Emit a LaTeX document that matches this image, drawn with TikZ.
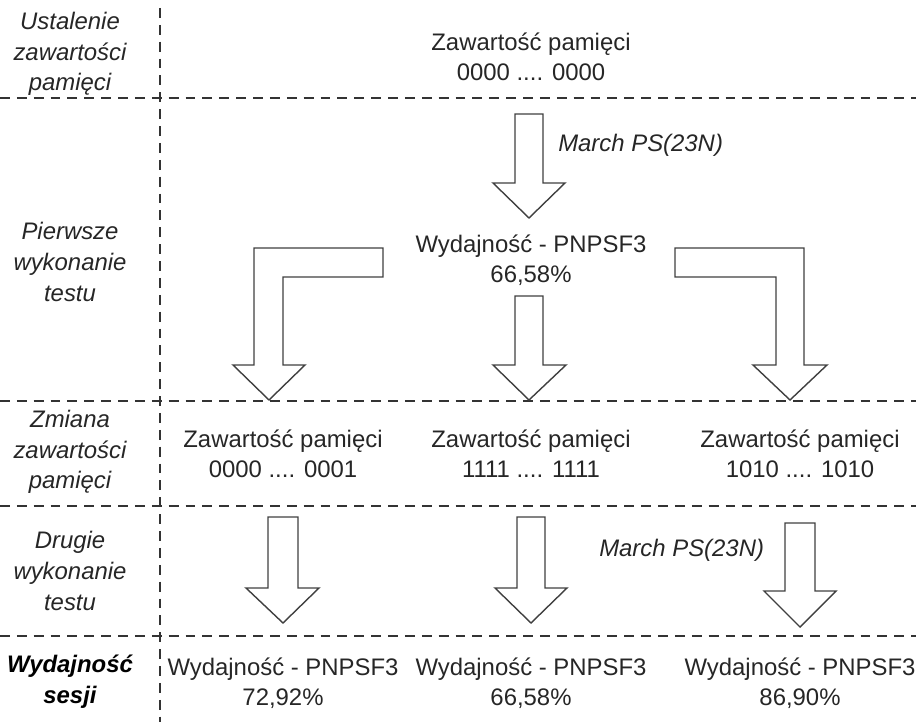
\documentclass[tikz,border=0pt]{standalone}
\usepackage{fontspec}
\setmainfont{Liberation Sans}
\tikzset{
  txt/.style={align=center, text=black!85, font=\fontsize{17}{21.3}\selectfont, inner sep=0pt},
  lbl/.style={txt, font=\fontsize{17}{21.8}\selectfont\itshape},
  sep/.style={draw=black!80, line width=1.1pt, dash pattern=on 7pt off 5pt},
  blk/.style={draw=black!75, line width=1pt, fill=white, line join=miter}
}
\begin{document}
\begin{tikzpicture}[x=0.025cm, y=-0.025cm]
  \useasboundingbox (0,0) rectangle (916,722);
  % separators
  \draw[sep] (0,98) -- (916,98);
  \draw[sep] (0,401) -- (916,401);
  \draw[sep] (0,506) -- (916,506);
  \draw[sep] (0,636) -- (916,636);
  \draw[sep] (160,8) -- (160,722);

  % left column
  \node[lbl] (stage1) at (70,54) {Ustalenie\\zawartości\\pamięci};
  \node[lbl] (stage2) at (70,262) {Pierwsze\\wykonanie\\testu};
  \node[lbl] (stage3) at (70,452) {Zmiana\\zawartości\\pamięci};
  \node[lbl] (stage4) at (70,571) {Drugie\\wykonanie\\testu};
  \node[lbl, font=\fontsize{17}{21.8}\selectfont\bfseries\itshape, text=black] (stage5) at (70,682) {Wydajność\\sesji};

  % memory contents and results
  \node[txt] (mem0) at (531,57) {Zawartość pamięci\\0000 .... 0000};
  \node[txt] (res0) at (531,260) {Wydajność - PNPSF3\\66,58\%};
  \node[txt] (memA) at (283,454) {Zawartość pamięci\\0000 .... 0001};
  \node[txt] (memB) at (531,454) {Zawartość pamięci\\1111 .... 1111};
  \node[txt] (memC) at (800,454) {Zawartość pamięci\\1010 .... 1010};
  \node[txt] (resA) at (283,683) {Wydajność - PNPSF3\\72,92\%};
  \node[txt] (resB) at (531,683) {Wydajność - PNPSF3\\66,58\%};
  \node[txt] (resC) at (800,683) {Wydajność - PNPSF3\\86,90\%};
  \node[txt, font=\fontsize{17}{21.3}\selectfont\itshape, anchor=west] (march1) at (558,145) {March PS(23N)};
  \node[txt, font=\fontsize{17}{21.3}\selectfont\itshape, anchor=west] (march2) at (599,550) {March PS(23N)};

  % block arrows
  \draw[blk] (515,114) -- (543,114) -- (543,183) -- (565,183) -- (529,218)
    -- (493,183) -- (515,183) -- cycle;
  \draw[blk] (254,248) -- (383,248) -- (383,277) -- (283,277) -- (283,365)
    -- (305,365) -- (269,400) -- (233,365) -- (254,365) -- cycle;
  \draw[blk] (515,296) -- (543,296) -- (543,365) -- (566,365) -- (529,400)
    -- (493,365) -- (515,365) -- cycle;
  \draw[blk] (675,248) -- (804,248) -- (804,365) -- (827,365) -- (790,400)
    -- (753,365) -- (776,365) -- (776,277) -- (675,277) -- cycle;
  \draw[blk] (268,517) -- (298,517) -- (298,588) -- (319,588) -- (283,623)
    -- (246,588) -- (268,588) -- cycle;
  \draw[blk] (517,517) -- (545,517) -- (545,588) -- (567,588) -- (531,623)
    -- (495,588) -- (517,588) -- cycle;
  \draw[blk] (785,523) -- (815,523) -- (815,591) -- (836,591) -- (800,627)
    -- (764,591) -- (785,591) -- cycle;
\end{tikzpicture}
\end{document}
